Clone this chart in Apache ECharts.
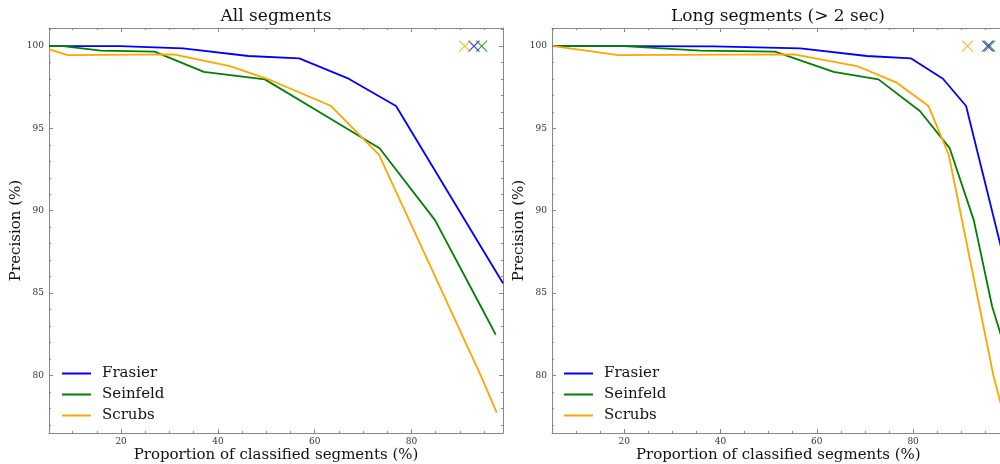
<!DOCTYPE html>
<html style="height: 100%">
   <head>
       <meta charset="utf-8">
       <script src="https://cdn.jsdelivr.net/npm/echarts@6/dist/echarts.min.js"></script>
    <style type="text/css">
      *{
        margin: 0;padding: 0;
      }
    </style>
   </head>
   <body style="height: 100%; margin: 0; background: #fff">
       <div id="container" style="width: 1000px; height: 464px"></div>
       <script type="text/javascript">
          // [proportion (%), precision (%)]
          var frasierAll = [[5.1,100],[19.8,100],[32.8,99.86],[46.3,99.4],[56.8,99.25],[67.0,98.02],[76.8,96.36],[94.5,87.74],[98.9,85.6]];
          var seinfeldAll = [[5.1,100],[8.0,100],[15.8,99.72],[26.9,99.66],[37.1,98.44],[49.7,97.98],[60.6,96.06],[73.4,93.8],[84.85,89.43],[94.3,84.2],[97.4,82.48]];
          var scrubsAll = [[5.1,99.8],[9.0,99.45],[30.8,99.5],[42.5,98.79],[50.3,98.0],[63.4,96.36],[73.3,93.4],[94.5,79.86],[97.6,77.74]];

          var frasierLong = [[5.3,100],[20.2,100],[38.6,99.98],[56.6,99.86],[70.4,99.4],[79.6,99.25],[86.2,98.02],[91.0,96.36],[98.3,87.74],[99.0,85.6]];
          var seinfeldLong = [[5.3,100],[19.9,100],[35.8,99.72],[51.3,99.66],[63.5,98.44],[72.8,97.98],[81.4,96.06],[87.6,93.8],[92.6,89.43],[96.4,84.2],[98.2,82.48]];
          var scrubsLong = [[5.3,100],[18.8,99.45],[55.2,99.5],[68.3,98.79],[76.6,97.78],[83.2,96.36],[87.4,93.4],[96.7,79.96],[98.7,77.74]];

          // single "x" points at the top right of each panel
          var crossAll = {Frasier: [92.9,100], Seinfeld: [94.5,100], Scrubs: [91.0,100]};
          var crossLong = {Frasier: [95.5,100], Seinfeld: [95.9,100], Scrubs: [91.3,100]};

          var names = ['Frasier', 'Seinfeld', 'Scrubs'];
          var colors = {Frasier: '#0000ff', Seinfeld: '#008000', Scrubs: '#ffa500'};

          var serif = 'DejaVu Serif';
          var xRange = [[5.1, 98.9], [5.0, 99.0]];
          var yRange = [76.5, 101.1];

          var dom = document.getElementById("container");
          var myChart = echarts.init(dom, null, {renderer: 'canvas'});

          function xAxisFor(grid, pos) {
              var main = pos === 'bottom';
              return {
                  type: 'value', gridIndex: grid, position: pos,
                  min: xRange[grid][0], max: xRange[grid][1], splitNumber: 5,
                  name: main ? 'Proportion of classified segments (%)' : '',
                  nameLocation: 'middle', nameGap: 15, nameMoveOverlap: false,
                  nameTextStyle: {fontFamily: serif, fontSize: 15, color: '#111', verticalAlign: 'top'},
                  axisLine: {onZero: false, lineStyle: {color: '#888', width: 1}},
                  axisTick: {inside: true, length: 4, lineStyle: {color: '#888'}},
                  minorTick: {show: true, splitNumber: 4, length: 2, lineStyle: {color: '#888'}},
                  splitLine: {show: false},
                  axisLabel: {show: main, showMinLabel: false, showMaxLabel: false, margin: 4,
                              fontFamily: serif, fontSize: 9, color: '#333'}
              };
          }
          function yAxisFor(grid, pos) {
              var main = pos === 'left';
              return {
                  type: 'value', gridIndex: grid, position: pos,
                  min: yRange[0], max: yRange[1], splitNumber: 5,
                  name: main ? 'Precision (%)' : '',
                  nameLocation: 'middle', nameGap: 25, nameMoveOverlap: false,
                  nameTextStyle: {fontFamily: serif, fontSize: 15, color: '#111'},
                  axisLine: {onZero: false, lineStyle: {color: '#888', width: 1}},
                  axisTick: {inside: true, length: 4, lineStyle: {color: '#888'}},
                  minorTick: {show: true, splitNumber: 5, length: 2, lineStyle: {color: '#888'}},
                  splitLine: {show: false},
                  axisLabel: {show: main, showMinLabel: false, showMaxLabel: false, margin: 5,
                              fontFamily: serif, fontSize: 9, color: '#333'}
              };
          }

          var series = [];
          function addPanel(grid, lines, crosses) {
              names.forEach(function (n, i) {
                  series.push({
                      name: n, type: 'line', xAxisIndex: grid * 2, yAxisIndex: grid * 2,
                      data: lines[i], symbol: 'none', silent: true,
                      lineStyle: {color: colors[n], width: 1.8},
                      itemStyle: {color: colors[n]}
                  });
              });
              names.forEach(function (n) {
                  series.push({
                      name: n + ' point', type: 'scatter', xAxisIndex: grid * 2, yAxisIndex: grid * 2,
                      data: [crosses[n]], symbol: 'path://M0,0L10,10M10,0L0,10', symbolSize: 11,
                      itemStyle: {color: 'rgba(0,0,0,0)', borderColor: colors[n], borderWidth: 1.1}
                  });
              });
          }
          addPanel(0, [frasierAll, seinfeldAll, scrubsAll], crossAll);
          addPanel(1, [frasierLong, seinfeldLong, scrubsLong], crossLong);

          function legendFor(left) {
              return {
                  data: names, orient: 'vertical', left: left, top: 366, padding: 0,
                  itemWidth: 29, itemHeight: 14, itemGap: 6, selectedMode: false,
                  itemStyle: {color: 'rgba(0,0,0,0)', borderWidth: 0},
                  lineStyle: {width: 2},
                  textStyle: {fontFamily: serif, fontSize: 15, color: '#111', padding: [0, 0, 0, 6]}
              };
          }

          option = {
              animation: false,
              backgroundColor: '#fff',
              title: [
                  {text: 'All segments', left: 276, top: 8, textAlign: 'center', padding: 0,
                   textStyle: {fontFamily: serif, fontSize: 17, fontWeight: 'normal', color: '#111'}},
                  {text: 'Long segments (> 2 sec)', left: 778, top: 8, textAlign: 'center', padding: 0,
                   textStyle: {fontFamily: serif, fontSize: 17, fontWeight: 'normal', color: '#111'}}
              ],
              legend: [legendFor(61), legendFor(563)],
              grid: [
                  {left: 49, top: 28, width: 454, height: 405, outerBoundsMode: 'none'},
                  {left: 552, top: 28, width: 452.6, height: 405, outerBoundsMode: 'none'}
              ],
              xAxis: [xAxisFor(0, 'bottom'), xAxisFor(0, 'top'), xAxisFor(1, 'bottom'), xAxisFor(1, 'top')],
              yAxis: [yAxisFor(0, 'left'), yAxisFor(0, 'right'), yAxisFor(1, 'left'), yAxisFor(1, 'right')],
              series: series
          };

          if (option && typeof option === "object") {
              myChart.setOption(option, true);
          }
       </script>
   </body>
</html>
